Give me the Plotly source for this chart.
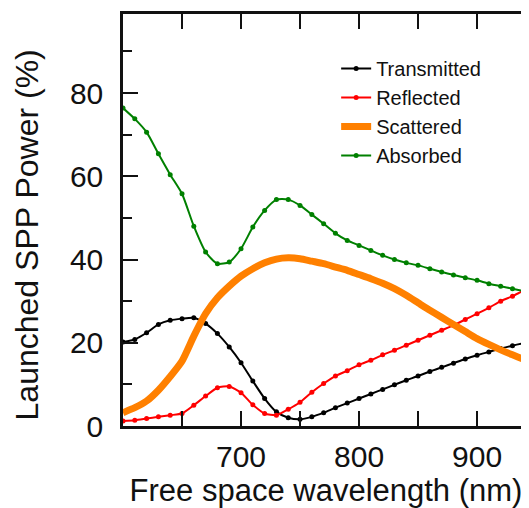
import plotly.graph_objects as go

wavelength = [600, 610, 620, 630, 640, 650, 660, 670, 680, 690, 700, 710, 720, 730, 740, 750,
              760, 770, 780, 790, 800, 810, 820, 830, 840, 850, 860, 870, 880, 890, 900, 910,
              920, 930, 940, 950]
transmitted = [20.2, 20.8, 22.4, 24.4, 25.4, 25.8, 26.0, 24.6, 22.2, 19.0, 15.2, 10.8, 6.6, 3.4,
               2.0, 1.6, 2.2, 3.2, 4.4, 5.5, 6.6, 7.7, 8.8, 9.9, 11.0, 12.0, 13.1, 14.1, 15.1,
               16.1, 17.0, 17.8, 18.6, 19.3, 19.9, 20.4]
reflected = [1.2, 1.4, 1.8, 2.2, 2.6, 3.0, 5.0, 7.2, 9.2, 9.5, 8.0, 5.1, 3.0, 2.6, 4.0, 5.7,
             8.1, 10.2, 12.0, 13.3, 14.7, 15.8, 17.1, 18.2, 19.4, 20.6, 21.8, 23.0, 24.2, 25.6,
             27.0, 28.4, 30.0, 31.2, 32.6, 33.8]
scattered = [3.2, 4.4, 6.0, 8.6, 11.9, 15.6, 21.6, 27.0, 30.8, 33.6, 36.0, 37.8, 39.2, 40.1,
             40.4, 40.2, 39.6, 39.0, 38.2, 37.4, 36.4, 35.4, 34.3, 33.0, 31.4, 29.6, 27.8, 26.1,
             24.4, 22.7, 21.0, 19.6, 18.3, 17.1, 16.0, 15.0]
absorbed = [76.4, 73.8, 70.6, 65.4, 60.4, 55.8, 48.0, 41.8, 39.0, 39.4, 42.6, 47.8, 51.8, 54.4,
            54.4, 53.0, 50.8, 48.6, 46.3, 44.6, 43.4, 42.2, 41.0, 40.0, 39.2, 38.6, 37.8, 37.0,
            36.3, 35.6, 35.0, 34.2, 33.6, 33.0, 32.4, 31.9]

x_ticks = [700, 800, 900]
y_ticks = [0, 20, 40, 60, 80]

FONT = "Liberation Sans, Arial, sans-serif"
INK = "#111111"

fig = go.Figure()
fig.add_trace(go.Scatter(x=wavelength, y=transmitted, name="Transmitted", mode="lines+markers",
                         line=dict(color="#000000", width=2, shape="spline", smoothing=0.6),
                         marker=dict(size=5, color="#000000")))
fig.add_trace(go.Scatter(x=wavelength, y=reflected, name="Reflected", mode="lines+markers",
                         line=dict(color="#ff0000", width=2, shape="spline", smoothing=0.6),
                         marker=dict(size=5, color="#ff0000")))
fig.add_trace(go.Scatter(x=wavelength, y=scattered, name="Scattered", mode="lines",
                         line=dict(color="#ff8000", width=7, shape="spline", smoothing=0.6)))
fig.add_trace(go.Scatter(x=wavelength, y=absorbed, name="Absorbed", mode="lines+markers",
                         line=dict(color="#008000", width=2, shape="spline", smoothing=0.6),
                         marker=dict(size=5, color="#008000")))
fig.add_trace(go.Scatter(x=[None], y=[None], yaxis="y2", showlegend=False, hoverinfo="skip"))

# The page body adds an 8 px margin, so the figure is 8 px smaller on each axis.
fig.update_layout(
    width=521, height=500,
    margin=dict(l=115, r=0, t=6, b=82),
    paper_bgcolor="white", plot_bgcolor="white",
    font=dict(family=FONT, color=INK),
    showlegend=True,
    legend=dict(x=0.525, y=0.915, xanchor="left", yanchor="top",
                bgcolor="rgba(0,0,0,0)", borderwidth=0,
                font=dict(size=20, family=FONT, color=INK),
                tracegroupgap=0),
    xaxis=dict(range=[600, 944], tickvals=x_ticks, ticks="inside", ticklen=15, tickwidth=2,
               tickcolor=INK, showline=True, linewidth=2.5, linecolor=INK,
               mirror="allticks", showgrid=False, zeroline=False, ticklabelstandoff=2,
               tickfont=dict(size=30, family=FONT, color=INK),
               minor=dict(tickvals=[650, 750, 850, 950], ticks="inside", ticklen=9,
                          tickwidth=2, tickcolor=INK, showgrid=False),
               title=dict(text="Free space wavelength (nm)", font=dict(size=31, family=FONT),
                          standoff=4)),
    yaxis=dict(range=[0, 99], tickvals=y_ticks, ticks="inside", ticklen=15, tickwidth=2,
               tickcolor=INK, showline=True, linewidth=2.5, linecolor=INK,
               mirror=False, showgrid=False, zeroline=False, ticklabelstandoff=11,
               tickfont=dict(size=30, family=FONT, color=INK),
               minor=dict(tickvals=[10, 30, 50, 70, 90], ticks="inside", ticklen=9,
                          tickwidth=2, tickcolor=INK, showgrid=False)),
    yaxis2=dict(range=[0, 99], overlaying="y", side="right", tickvals=y_ticks, ticks="inside",
                ticklen=7, tickwidth=2, tickcolor=INK, showline=False,
                showticklabels=False, showgrid=False, zeroline=False),
    annotations=[dict(text="Launched SPP Power (%)", xref="paper", yref="paper",
                      x=-0.236, y=0.463, xanchor="center", yanchor="middle", textangle=-90,
                      showarrow=False, font=dict(size=32, family=FONT, color=INK))],
)

fig.write_html("out.html")
